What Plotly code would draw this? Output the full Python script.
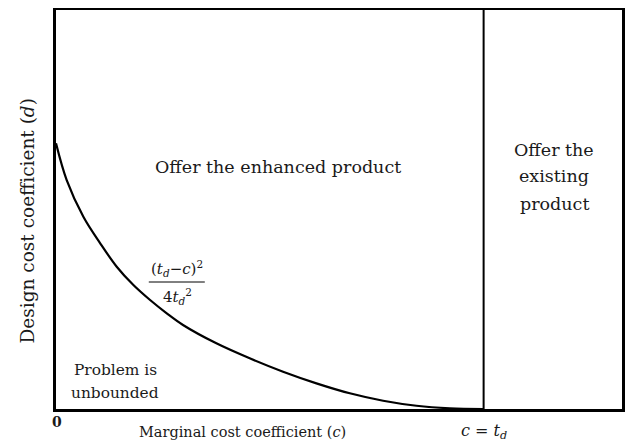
import plotly.graph_objects as go

# Curve (c in units of t_d, d in units where d(0)≈0.25)
c_vals = [0.0, 0.025, 0.064, 0.103, 0.142, 0.181, 0.220, 0.259, 0.297, 0.375,
          0.453, 0.531, 0.609, 0.687, 0.765, 0.843, 0.921, 1.0]
d_vals = [0.2536, 0.2185, 0.1835, 0.1584, 0.1358, 0.1183, 0.1040, 0.0913, 0.0802, 0.0627,
          0.0484, 0.0356, 0.0245, 0.0150, 0.0079, 0.0031, 0.0007, 0.0]
t_d = 1.0
x_max = 1.3236
y_max = 0.3808

FONT = "DejaVu Serif"
TXT = "#1a1a1a"

fig = go.Figure()
fig.add_trace(go.Scatter(x=c_vals, y=d_vals, mode="lines",
                         line=dict(color="black", width=2.2, shape="spline", smoothing=1.0),
                         hoverinfo="skip", showlegend=False))

fig.add_shape(type="line", xref="x", yref="y", x0=t_d, x1=t_d, y0=0, y1=y_max,
              line=dict(color="black", width=2))

ann = []
def A(text, x, y, size, xref="x", yref="y", **kw):
    ann.append(dict(text=text, x=x, y=y, xref=xref, yref=yref, showarrow=False,
                    font=dict(family=FONT, size=size, color=TXT), **kw))

A("Offer the enhanced product", 0.52, 0.231, 17.5)
A("Offer the", 1.165, 0.2472, 17.5)
A("existing", 1.165, 0.2224, 17.5)
A("product", 1.165, 0.1956, 17.5)
A("Problem is", 0.138, 0.0372, 15.4)
A("unbounded", 0.138, 0.0153, 15.4)
# fraction label
A("(<i>t</i><sub><i>d</i></sub>−<i>c</i>)<sup>2</sup>", 0.283, 0.1225, 15, yanchor="bottom")
A("4<i>t</i><sub><i>d</i></sub><sup>2</sup>", 0.283, 0.1195, 15, yanchor="top")
fig.add_shape(type="line", xref="x", yref="y", x0=0.217, x1=0.348, y0=0.1212, y1=0.1212,
              line=dict(color="black", width=1))

A("<b>0</b>", 0.003, 0.0, 14, yref="paper", yanchor="middle", yshift=-13)
A("Marginal cost coefficient (<i>c</i>)", 0.437, 0.0, 14.5, yref="paper",
  yanchor="middle", yshift=-23)
A("<i>c</i> = <i>t</i><sub><i>d</i></sub>", t_d, 0.0, 16, yref="paper",
  yanchor="middle", yshift=-22)
A("Design cost coefficient (<i>d</i>)", 0, 0.47, 18.5, xref="paper", yref="paper",
  textangle=-90, xanchor="center", yanchor="middle", xshift=-29)

fig.update_layout(
    width=617, height=433,
    margin=dict(l=48, r=2.5, t=2, b=32, autoexpand=False),
    paper_bgcolor="white", plot_bgcolor="white",
    annotations=ann,
    xaxis=dict(range=[0, x_max], showgrid=False, zeroline=False, showticklabels=False,
               ticks="", showline=True, mirror=True, linecolor="black", linewidth=2.5),
    yaxis=dict(range=[0, y_max], showgrid=False, zeroline=False, showticklabels=False,
               ticks="", showline=True, mirror=True, linecolor="black", linewidth=2.5),
)

fig.write_html("out.html")
